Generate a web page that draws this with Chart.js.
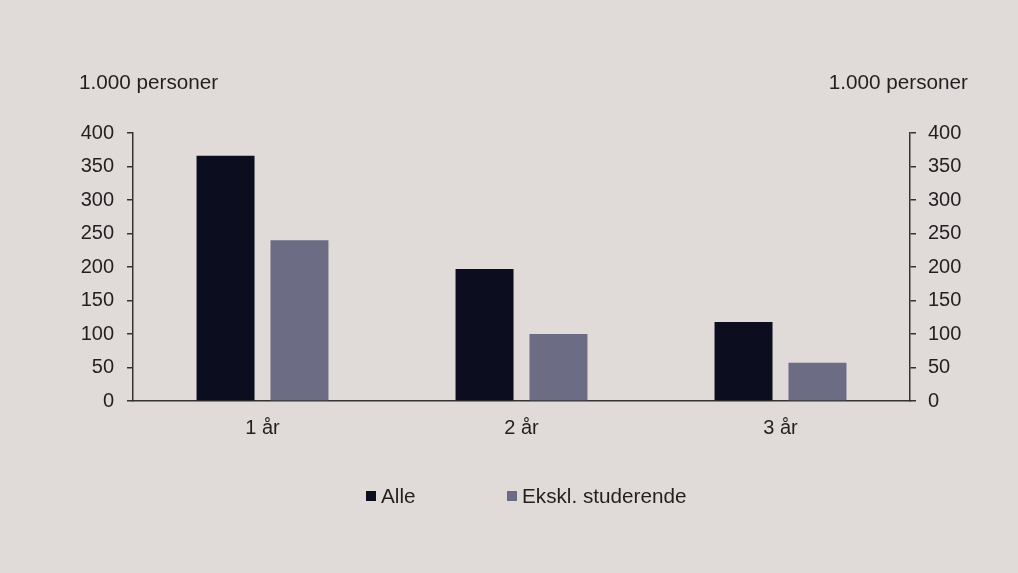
<!DOCTYPE html>
<html><head><meta charset="utf-8">
<script src="https://cdn.jsdelivr.net/npm/chart.js@4"></script>
<style>
html,body{margin:0;padding:0;background:#e0dad8;}
#wrap{position:relative;width:1018px;height:573px;background:#e0dad8;font-family:"Liberation Sans",Arial,sans-serif;color:#231f20;}
canvas{position:absolute;left:0;top:0;}
.ttl{position:absolute;top:70px;font-size:20.7px;}
#legend{position:absolute;top:484px;left:0;width:1018px;font-size:20.7px;}
.li{position:absolute;display:flex;align-items:center;}
.sw{width:10px;height:10px;margin-right:5px;}
</style></head>
<body><div id="wrap"><canvas id="c" width="1018" height="573"></canvas>
<div class="ttl" id="tl" style="left:79px"></div>
<div class="ttl" id="tr" style="right:50px"></div>
<div id="legend"></div></div>
<script>
const categories = ["1 år", "2 år", "3 år"];
const alle = [366, 197, 118];
const ekskl = [240, 100, 57];
const seriesNames = ["Alle", "Ekskl. studerende"];
const axisTitle = "1.000 personer";
const yTicks = [0, 50, 100, 150, 200, 250, 300, 350, 400];

const colors = ["#0c0e1f", "#6c6c84"];
const txt = "#231f20";
document.getElementById('tl').textContent = axisTitle;
document.getElementById('tr').textContent = axisTitle;
const legPos = [366, 507];
const leg = document.getElementById('legend');
seriesNames.forEach((n,i)=>{
  const d=document.createElement('div');d.className='li';d.style.left=legPos[i]+'px';
  const s=document.createElement('div');s.className='sw';s.style.background=colors[i];
  const t=document.createElement('span');t.textContent=n;
  d.appendChild(s);d.appendChild(t);leg.appendChild(d);
});
const font = {family:'"Liberation Sans", Arial, sans-serif', size:20};
const yAxis = (pos, w, pad) => ({
  type:'linear', position:pos, min:0, max:400,
  afterBuildTicks: s => { s.ticks = yTicks.map(v=>({value:v})); },
  afterFit: s => { s.width = w; },
  grid:{display:true, drawOnChartArea:false, tickLength:6, color:'#333', lineWidth:1.5},
  border:{display:true, color:'#333', width:1.5},
  ticks:{color:txt, font, padding:pad}
});
new Chart(document.getElementById('c'), {
  type:'bar',
  data:{labels:categories, datasets:[
    {label:seriesNames[0], data:alle, backgroundColor:colors[0], yAxisID:'y'},
    {label:seriesNames[1], data:ekskl, backgroundColor:colors[1], yAxisID:'y'}
  ]},
  options:{
    responsive:false, animation:false,
    layout:{padding:{left:0,right:0,top:133,bottom:0}},
    datasets:{bar:{categoryPercentage:0.571, barPercentage:0.784}},
    plugins:{legend:{display:false}, tooltip:{enabled:false}},
    scales:{
      x:{grid:{display:false}, border:{display:true,color:'#333',width:1.5},
         afterFit: s => { s.height = 172; },
         ticks:{color:txt, font, padding:7}},
      y: yAxis('left', 133, 13),
      y2: yAxis('right', 108, 12)
    }
  }
});
</script></body></html>
